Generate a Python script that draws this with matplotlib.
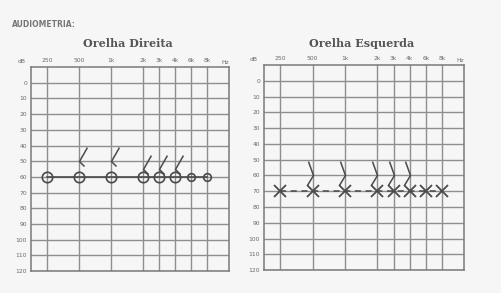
import numpy as np
import matplotlib
matplotlib.use("Agg")
import matplotlib.pyplot as plt
from matplotlib.path import Path

# audiogram data (dB HL)
freqs = np.array([250, 500, 1000, 2000, 3000, 4000, 6000, 8000])
freq_labels = ["250", "500", "1k", "2k", "3k", "4k", "6k", "8k"]
bone_freqs = np.array([500, 1000, 2000, 3000, 4000])

right_air = [60, 60, 60, 60, 60, 60, 60, 60]
right_bone = [50, 50, 55, 55, 55]
left_air = [70, 70, 70, 70, 70, 70, 70, 70]
left_bone = [60, 60, 60, 60, 60]

db_ticks = list(range(0, 130, 10))


def xpos(f):
    # octave spacing, half-octaves drawn at the midpoint
    return np.round(2 * np.log2(np.asarray(f) / 250)) / 2


bone_right = Path([(0.57, 1.0), (0, 0), (0.36, -0.36)],
                  [Path.MOVETO, Path.LINETO, Path.LINETO])
bone_left = Path([(-0.36, 1.0), (0, 0), (-0.43, -0.71)],
                 [Path.MOVETO, Path.LINETO, Path.LINETO])

bg = "#f6f6f6"
grid_c = "#8e8e8e"
ink = "#4a4a4a"
txt = "#6a6a6a"

fig = plt.figure(figsize=(5.02, 2.93), dpi=100, facecolor=bg)


def setup(ax):
    ax.set_facecolor(bg)
    ax.set_xlim(-0.5, 5.67)
    ax.set_ylim(120, -10)
    ax.set_xticks(xpos(freqs))
    ax.set_xticklabels(freq_labels)
    ax.set_yticks(db_ticks)
    ax.set_yticklabels([str(d) for d in db_ticks])
    ax.xaxis.tick_top()
    ax.tick_params(length=0, labelsize=4.3, labelcolor=txt, pad=3)
    ax.grid(True, color=grid_c, lw=1.0)
    for s in ax.spines.values():
        s.set_color("#7a7a7a")
        s.set_linewidth(1.1)
    ax.text(5.56, -10, "Hz", fontsize=4.3, color=txt, ha="center", va="bottom",
            transform=ax.transData, clip_on=False).set_y(-11.3)
    ax.text(-0.03, 1.015, "dB", fontsize=4.3, color=txt, ha="right", va="bottom",
            transform=ax.transAxes)


# Orelha Direita
ax1 = fig.add_axes([0.062, 0.075, 0.394, 0.696])
setup(ax1)
ax1.plot(xpos(freqs), right_air, color=ink, lw=1.2, zorder=3)
ax1.plot(xpos(freqs[:6]), right_air[:6], ls="none", marker="o", ms=7.5,
         mfc="none", mec=ink, mew=1.2, zorder=4)
ax1.plot(xpos(freqs[6:]), right_air[6:], ls="none", marker="o", ms=5.5,
         mfc="none", mec=ink, mew=1.2, zorder=4)
ax1.plot(xpos(bone_freqs), right_bone, ls="none", marker=bone_right, ms=20,
         mfc="none", mec=ink, mew=1.1, zorder=4)

# Orelha Esquerda
ax2 = fig.add_axes([0.526, 0.078, 0.398, 0.700])
setup(ax2)
ax2.plot(xpos(freqs), left_air, color=ink, lw=1.1, ls=(0, (4, 3)), zorder=3)
ax2.plot(xpos(freqs), left_air, ls="none", marker="x", ms=8,
         mec=ink, mew=1.3, zorder=4)
ax2.plot(xpos(bone_freqs), left_bone, ls="none", marker=bone_left, ms=20,
         mfc="none", mec=ink, mew=1.1, zorder=4)

fig.text(0.255, 0.85, "Orelha Direita", fontsize=8, fontweight="bold",
         family="DejaVu Serif", color="#555555", ha="center", va="center")
fig.text(0.721, 0.85, "Orelha Esquerda", fontsize=8, fontweight="bold",
         family="DejaVu Serif", color="#555555", ha="center", va="center")
fig.text(0.024, 0.915, "AUDIOMETRIA:", fontsize=5.5, fontweight="bold",
         color="#777777", ha="left", va="center")

fig.savefig("out.png", dpi=100, facecolor=bg)
